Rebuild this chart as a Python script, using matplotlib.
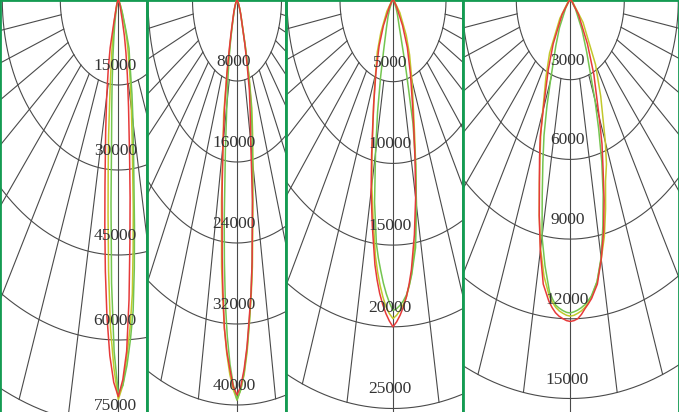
import numpy as np
import matplotlib
matplotlib.use("Agg")
import matplotlib.pyplot as plt

# ---------------- data ----------------
ANGLES = [0, 1, 2, 3, 4, 5, 6, 8, 10, 12, 14, 16, 18, 20, 25, 30, 40, 60, 90]

# panel 1 (ring step 15000)
P1_LABELS = ["15000", "30000", "45000", "60000", "75000"]
P1_RED_L = [70000, 67500, 62800, 56000, 48000, 40000, 33000, 23500, 17300, 12500, 8700, 4300, 2500, 1800, 1000, 600, 200, 50, 0]
P1_RED_R = [70000, 67000, 62000, 53000, 43000, 35000, 28000, 19000, 13500, 9500, 6500, 3800, 2300, 1700, 1000, 600, 200, 50, 0]
P1_GRN_L = [69400, 62000, 50000, 36000, 25000, 19500, 15500, 10000, 6500, 4500, 3000, 2000, 1500, 1100, 700, 400, 150, 40, 0]
P1_GRN_R = [69400, 68000, 64500, 60000, 55000, 47500, 40000, 28500, 22000, 17000, 13000, 10500, 9000, 6000, 2500, 1200, 300, 50, 0]
P1_YEL_L = [70500, 65000, 58000, 48000, 38000, 30000, 24000, 15000, 10000, 7000, 5000, 3500, 2500, 1800, 1000, 600, 200, 50, 0]
P1_YEL_R = [70500, 68000, 63000, 58000, 52000, 44000, 37000, 26000, 19500, 15000, 11500, 9000, 7000, 5000, 2200, 1000, 300, 50, 0]

# panel 2 (ring step 8000)
P2_LABELS = ["8000", "16000", "24000", "32000", "40000"]
P2_RED_L = [39000, 38200, 36500, 34800, 32500, 29000, 25500, 19300, 14500, 10600, 7500, 5000, 3500, 2500, 1400, 800, 300, 50, 0]
P2_RED_R = [39000, 38200, 36500, 34300, 31500, 29000, 26000, 20000, 14200, 11400, 9200, 6500, 4500, 3000, 1600, 900, 300, 50, 0]
P2_GRN_L = [39500, 38000, 36000, 33300, 30000, 26000, 22000, 15000, 10500, 7800, 5800, 4200, 3000, 2200, 1200, 700, 250, 50, 0]
P2_GRN_R = [39500, 38500, 36800, 34500, 31800, 29000, 26000, 20000, 16000, 13000, 10500, 7500, 4800, 3000, 1600, 900, 300, 50, 0]
P2_YEL_L = [39500, 38500, 37000, 35000, 32500, 29500, 26500, 20000, 14500, 11500, 7500, 4500, 3000, 2200, 1300, 800, 300, 50, 0]
P2_YEL_R = [39500, 38500, 37000, 34800, 32000, 29300, 26500, 20500, 16500, 13500, 11000, 8000, 5000, 3200, 1700, 1000, 350, 50, 0]

# panel 3 (ring step 5000)
P3_LABELS = ["5000", "10000", "15000", "20000", "25000"]
P3_RED_L = [20000, 19650, 19200, 18650, 18000, 17200, 16300, 14000, 11900, 9700, 7900, 6600, 5500, 4700, 3100, 1800, 500, 100, 0]
P3_RED_R = [20000, 19700, 19300, 18800, 18200, 17450, 16600, 14500, 12300, 10000, 8100, 6700, 5600, 4800, 3200, 1800, 500, 100, 0]
P3_GRN_L = [19000, 18550, 18000, 17350, 16600, 15850, 15000, 12500, 9500, 7000, 4800, 3200, 2300, 1800, 1100, 600, 200, 50, 0]
P3_GRN_R = [19000, 18900, 18700, 18450, 18100, 17550, 16900, 15300, 12700, 10300, 7800, 4500, 2500, 1700, 1000, 600, 200, 50, 0]
P3_YEL_L = [19500, 19200, 18800, 18200, 17500, 16700, 15800, 13500, 11500, 9500, 7800, 6600, 5600, 4800, 3500, 2300, 900, 150, 0]
P3_YEL_R = [19500, 19300, 19000, 18650, 18200, 17550, 16800, 15000, 12700, 10300, 8400, 7000, 6000, 5200, 3700, 2500, 1000, 150, 0]

# panel 4 (ring step 3000)
P4_LABELS = ["3000", "6000", "9000", "12000", "15000"]
P4_RED_L = [12100, 12070, 12000, 11920, 11800, 11620, 11400, 10800, 9600, 8300, 7100, 6200, 5400, 4400, 2900, 1900, 700, 100, 0]
P4_RED_R = [12100, 12070, 12000, 11850, 11650, 11480, 11300, 10800, 9900, 8900, 7760, 6600, 5700, 4700, 3100, 1900, 700, 100, 0]
P4_GRN_L = [11780, 11760, 11700, 11620, 11520, 11300, 11050, 10100, 9050, 7500, 6300, 5300, 4200, 3200, 1900, 1200, 400, 80, 0]
P4_GRN_R = [11780, 11740, 11680, 11600, 11500, 11360, 11200, 10700, 9850, 8700, 7550, 6350, 5100, 4000, 2150, 1300, 450, 80, 0]
P4_YEL_L = [11900, 11870, 11800, 11720, 11600, 11420, 11200, 10500, 9500, 8300, 7100, 6100, 5300, 4500, 3200, 2300, 900, 150, 0]
P4_YEL_R = [11900, 11870, 11800, 11720, 11600, 11440, 11250, 10700, 9900, 9100, 8100, 7100, 6500, 5700, 4000, 2800, 1100, 150, 0]

# ---------------- layout (pixels) ----------------
W, H = 679, 412
# left, right, center x, px per ring horizontally, px per ring vertically
LAYOUT = [
    (0, 147, 118.3, 58.0, 85.0),
    (147, 286, 237.0, 44.5, 81.0),
    (286, 463, 393.0, 53.0, 81.7),
    (463, 679, 570.3, 54.0, 79.7),
]
PANELS = [
    (P1_LABELS, (P1_YEL_L, P1_YEL_R), (P1_GRN_L, P1_GRN_R), (P1_RED_L, P1_RED_R)),
    (P2_LABELS, (P2_YEL_L, P2_YEL_R), (P2_GRN_L, P2_GRN_R), (P2_RED_L, P2_RED_R)),
    (P3_LABELS, (P3_YEL_L, P3_YEL_R), (P3_GRN_L, P3_GRN_R), (P3_RED_L, P3_RED_R)),
    (P4_LABELS, (P4_YEL_L, P4_YEL_R), (P4_GRN_L, P4_GRN_R), (P4_RED_L, P4_RED_R)),
]
COLORS = ["#c2c82c", "#74c550", "#e63a3a"]
GRID = "#4a4a4a"
BORDER = "#149b52"

plt.rcParams['font.family'] = ['Liberation Serif', 'DejaVu Serif']

fig = plt.figure(figsize=(W / 100, H / 100), dpi=100)
fig.patch.set_facecolor("white")

for (l, r, cx, rx, ry), (labels, *curves) in zip(LAYOUT, PANELS):
    ax = fig.add_axes([l / W, 0, (r - l) / W, 1])
    rings = [float(s) for s in labels]
    step = rings[0]
    ax.set_xlim((l - cx) / rx * step, (r - cx) / rx * step)
    ax.set_ylim(H / ry * step, 0)
    ax.set_xticks([]); ax.set_yticks([])
    for side in ("left", "right", "top"):
        ax.spines[side].set_color(BORDER)
        ax.spines[side].set_linewidth(2.0)
    ax.spines["bottom"].set_visible(False)

    # rings
    t = np.radians(np.linspace(-90, 90, 361))
    for rv in rings:
        ax.plot(rv * np.sin(t), rv * np.cos(t), color=GRID, lw=0.8, zorder=1)
    # spokes every 10 degrees, from first to last ring
    r0, r1 = rings[0], rings[-1]
    for a in range(10, 91, 10):
        for sgn in (-1, 1):
            th = np.radians(sgn * a)
            ax.plot([r0 * np.sin(th), r1 * np.sin(th)], [r0 * np.cos(th), r1 * np.cos(th)],
                    color=GRID, lw=0.8, zorder=1)
    ax.plot([0, 0], [0, H / ry * step * 1.1], color=GRID, lw=0.8, zorder=1)

    # curves
    ang = np.array(ANGLES, dtype=float)
    for (vl, vr), col in zip(curves, COLORS):
        th = np.radians(np.concatenate([-ang[::-1], ang[1:]]))
        iv = np.concatenate([np.array(vl, float)[::-1], np.array(vr, float)[1:]])
        ax.plot(iv * np.sin(th), iv * np.cos(th), color=col, lw=1.1, zorder=3)

    # ring labels
    for lab, rv in zip(labels, rings):
        yl = rv - 19.0 / ry * step
        xl = -3.0 / rx * step
        ax.text(xl, yl, lab, ha="center", va="center", fontsize=12.5, color="#333333",
                zorder=4, clip_on=True)

fig.savefig("out.png", dpi=100, facecolor="white")
